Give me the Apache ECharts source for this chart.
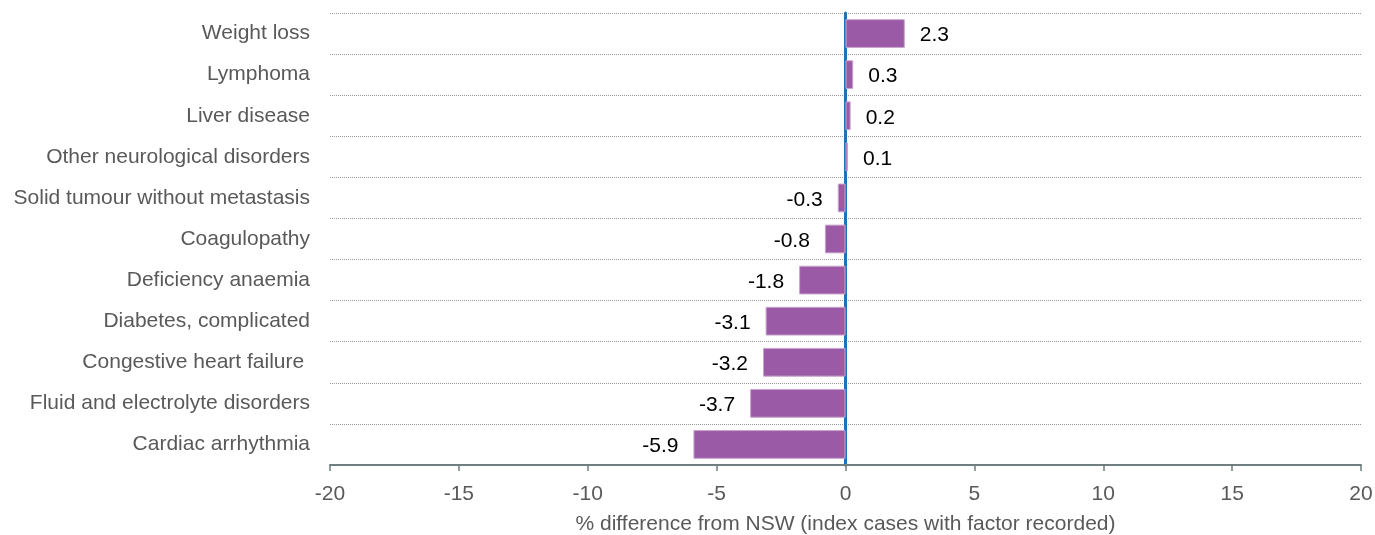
<!DOCTYPE html>
<html>
<head>
<meta charset="utf-8">
<script src="https://cdn.jsdelivr.net/npm/echarts@6/dist/echarts.min.js"></script>
<style>html,body{margin:0;padding:0;background:#fff}#c{width:1375px;height:535px}</style>
</head>
<body>
<div id="c"></div>
<script>
const categories = ["Weight loss","Lymphoma","Liver disease","Other neurological disorders","Solid tumour without metastasis","Coagulopathy","Deficiency anaemia","Diabetes, complicated","Congestive heart failure ","Fluid and electrolyte disorders","Cardiac arrhythmia"];
const values = [2.3,0.3,0.2,0.1,-0.3,-0.8,-1.8,-3.1,-3.2,-3.7,-5.9];
const axisTitle = "% difference from NSW (index cases with factor recorded)";

const FONT = 'Liberation Sans, Arial, sans-serif';
const chart = echarts.init(document.getElementById('c'), null, {renderer:'canvas'});
chart.setOption({
  animation: false,
  grid: {left: 330, right: 14, top: 13, bottom: 70, containLabel: false, outerBoundsMode: 'none'},
  xAxis: {
    type: 'value', min: -20, max: 20, interval: 5,
    axisLine: {show: true, onZero: false, lineStyle: {color: '#6f7f7f', width: 2}},
    axisTick: {show: true, length: 6, lineStyle: {color: '#6f7f7f', width: 1.5}},
    axisLabel: {color: '#595959', fontSize: 21, fontFamily: FONT, margin: 19},
    splitLine: {show: false},
    name: axisTitle, nameLocation: 'middle', nameGap: 49,
    nameTextStyle: {color: '#595959', fontSize: 21, fontFamily: FONT}
  },
  yAxis: {
    type: 'category', data: categories, inverse: true,
    axisLine: {show: true, onZero: true, lineStyle: {color: '#1f72b8', width: 3}},
    axisTick: {show: false},
    axisLabel: {color: '#595959', fontSize: 21, fontFamily: FONT, margin: 20, padding: [4, 0, 0, 0]},
    splitLine: {show: true, lineStyle: {color: '#9a9a9a', type: [1, 1], width: 1}}
  },
  series: [{
    type: 'bar',
    data: values.map(v => ({value: v, label: {position: v < 0 ? 'left' : 'right'}})),
    barCategoryGap: '30%',
    itemStyle: {color: '#9b5aa5', borderColor: '#c8a6cd', borderWidth: 1},
    label: {
      show: true, fontSize: 21, color: '#000', fontFamily: FONT, distance: 15, offset: [0, 2],
      formatter: p => p.value.toFixed(1)
    }
  }]
});
</script>
</body>
</html>
